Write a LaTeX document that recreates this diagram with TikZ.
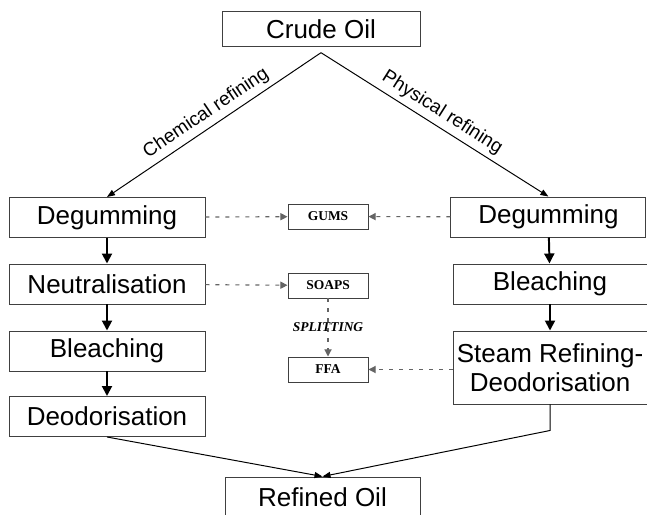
\documentclass[tikz,border=0pt]{standalone}
\usepackage{fontspec}
\setmainfont{Liberation Sans}
\newfontfamily\timesfont{Liberation Serif}
\usetikzlibrary{arrows.meta,positioning}
\definecolor{boxgray}{RGB}{64,64,64}
\definecolor{dotgray}{RGB}{100,100,100}

\begin{document}
\begin{tikzpicture}[x=1cm,y=1cm,box/.style={draw=boxgray,line width=.7pt,align=center,inner sep=2pt,font=\fontsize{18.5}{20.5}\selectfont},sub/.style={draw=boxgray,line width=.7pt,minimum width=2cm,minimum height=.625cm,inner sep=1pt,font=\timesfont\bfseries\fontsize{9.6}{11}\selectfont},flow/.style={-{Triangle[length=.25cm,width=.25cm]},line width=1.4pt},feed/.style={-{Triangle[length=.2cm,width=.15cm]},line width=.7pt},side/.style={-{Triangle[length=.18cm,width=.18cm]},draw=dotgray,line width=.8pt,dash pattern=on .1cm off .15cm},route/.style={above,sloped,font=\fontsize{13.5}{15}\selectfont}]

\useasboundingbox (0,0) rectangle (16.175,12.85);

\node[box,minimum width=4.95cm,minimum height=.875cm] (crude) at(8.025,12.1125) {Crude Oil};
% chemical route
\node[box,minimum width=4.9cm,minimum height=1cm] (cdeg) at(2.675,7.4125) {Degumming};
\node[box,minimum width=4.9cm,minimum height=1cm] (cneu) at(2.675,5.75) {Neutralisation};
\node[box,minimum width=4.9cm,minimum height=1cm] (cble) at(2.675,4.075) {Bleaching};
\node[box,minimum width=4.9cm,minimum height=1cm] (cdeo) at(2.675,2.4375) {Deodorisation};
% physical route
\node[box,minimum width=4.875cm,minimum height=1cm] (pdeg) at(13.71,7.425) {Degumming};
\node[box,minimum width=4.85cm,minimum height=1cm] (pble) at(13.75,5.75) {Bleaching};
\node[box,minimum width=4.85cm,minimum height=1.825cm] (pste) at(13.75,3.6625) {Steam Refining-\\Deodorisation};
% by-products
\node[sub] (gums) at(8.2,7.4375) {GUMS};
\node[sub] (soaps) at(8.2,5.7125) {SOAPS};
\node[sub] (ffa) at(8.2,3.6125) {FFA};
\node[box,minimum width=4.875cm,minimum height=1cm] (refined) at(8.0625,.425) {Refined Oil};

\coordinate (top) at ([yshift=-.13cm]crude.south);
\coordinate (bend) at ([yshift=-.65cm]pste.south);

\draw[feed] (top) -- node[route] {Chemical refining} (cdeg.north);
\draw[feed] (top) -- node[route] {Physical refining} (pdeg.north);
\draw[flow] (cdeg) -- (cneu);
\draw[flow] (cneu) -- (cble);
\draw[flow] (cble) -- (cdeo);
\draw[flow] (pdeg) -- (pble);
\draw[flow] (pble) -- (pste);
\draw[feed] (cdeo.south) -- (refined.north);
\draw[feed] (pste.south) -- (bend) -- (refined.north);

\draw[side] (cdeg) -- (gums);
\draw[side] (pdeg) -- (gums);
\draw[side] (cneu) -- (soaps);
\draw[side] (soaps) -- node[font=\timesfont\bfseries\itshape\fontsize{9.6}{11}\selectfont] {SPLITTING} (ffa);
\draw[side] (pste.west |- ffa) -- (ffa);
\end{tikzpicture}
\end{document}
